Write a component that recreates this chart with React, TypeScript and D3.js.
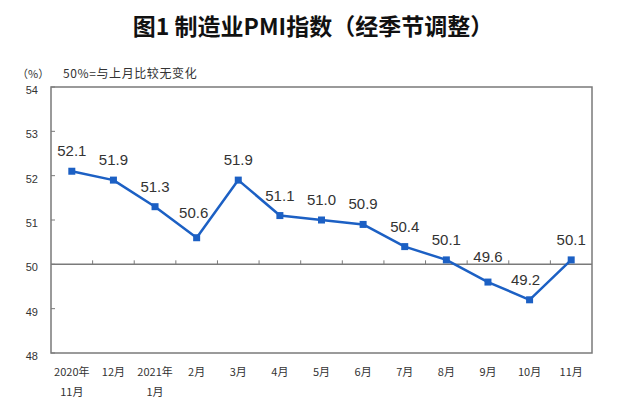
import React from "react";
import * as d3 from "d3";

const months = ["2020年\n11月", "12月", "2021年\n1月", "2月", "3月", "4月", "5月", "6月", "7月", "8月", "9月", "10月", "11月"];
const pmi = [52.1, 51.9, 51.3, 50.6, 51.9, 51.1, 51.0, 50.9, 50.4, 50.1, 49.6, 49.2, 50.1];
const yTicks = [48, 49, 50, 51, 52, 53, 54];
// small label nudges (dx, dy) to avoid overlap with line
const labelNudgeX = [0, 0, 0, -3, 0, 0, 0, 0, 0, 0, 0, -4, 0];
const labelNudgeY = [0, 0, 0, -5, 0, 0, 0, 0, 0, 0, -5, 0, 0];

const W = 640, H = 403;
const L = 51, R = 592, T = 87, B = 353;

export default function App() {
  const x = d3.scaleBand<string>().domain(months).range([L, R]);
  const y = d3.scaleLinear().domain([48, 54]).range([B, T]);
  const cx = (m: string) => (x(m) as number) + x.bandwidth() / 2;
  const line = d3.line<number>().x((_, i) => cx(months[i])).y((v) => y(v));
  const blue = "#1c60c4";
  const gray = "#7a7a7a";
  const sans = "'Liberation Sans', Arial, sans-serif";
  const cjk = "'Noto Sans CJK SC', sans-serif";
  return (
    <svg width={W} height={H} style={{ position: "absolute", left: 0, top: 0, background: "#fff" }}>
      <rect x={0} y={0} width={W} height={H} fill="#fff" />
      <text x={313} y={35} textAnchor="middle" fontSize={23} fontWeight="bold" fontFamily={cjk} fill="#111">
        图1 制造业PMI指数（经季节调整）
      </text>
      <text x={17} y={78} fontSize={11} fontFamily={cjk} fill="#333">（%）</text>
      <text x={63} y={78} fontSize={12} fontFamily={cjk} fill="#333" letterSpacing={0.6}>50%=与上月比较无变化</text>
      {/* frame */}
      <rect x={L} y={T} width={R - L} height={B - T} fill="none" stroke={gray} strokeWidth={1.5} />
      {/* y ticks */}
      {yTicks.map((t) => (
        <g key={t}>
          <line x1={L} x2={L + 4} y1={y(t)} y2={y(t)} stroke={gray} strokeWidth={1} />
          <text x={38} y={y(t) + 7} textAnchor="end" fontSize={11} fontFamily={sans} fill="#333">{t}</text>
        </g>
      ))}
      {/* 50 baseline */}
      <line x1={L} x2={R} y1={y(50)} y2={y(50)} stroke={gray} strokeWidth={1.5} />
      {months.slice(1).map((m) => (
        <line key={m} x1={x(m) as number} x2={x(m) as number} y1={y(50)} y2={y(50) - 4} stroke={gray} strokeWidth={1} />
      ))}
      {/* x labels */}
      {months.map((m) => {
        const parts = m.split("\n");
        return (
          <text key={m} textAnchor="middle" fontSize={11} fontFamily={cjk} fill="#333">
            {parts.map((p, j) => (
              <tspan key={j} x={cx(m)} y={376 + j * 20}>{p}</tspan>
            ))}
          </text>
        );
      })}
      {/* line */}
      <path d={line(pmi) || ""} fill="none" stroke={blue} strokeWidth={2.5} strokeLinejoin="round" />
      {pmi.map((v, i) => (
        <rect key={i} x={cx(months[i]) - 3.5} y={y(v) - 3.5} width={7} height={7} fill={blue} />
      ))}
      {pmi.map((v, i) => (
        <text key={"l" + i} x={cx(months[i]) + labelNudgeX[i]} y={y(v) - 15 + labelNudgeY[i]} textAnchor="middle" fontSize={15} fontFamily={sans} fill="#333">
          {v.toFixed(1)}
        </text>
      ))}
    </svg>
  );
}
